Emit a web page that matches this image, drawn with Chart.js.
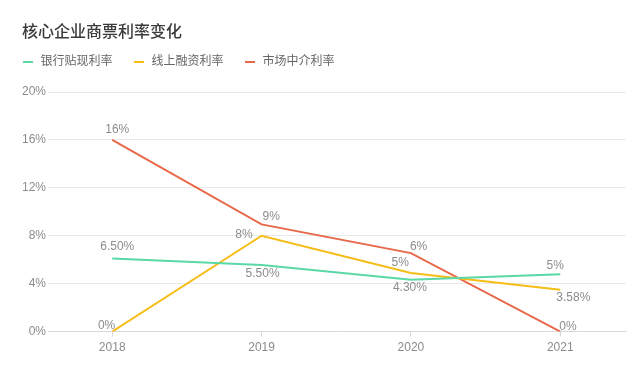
<!DOCTYPE html>
<html>
<head>
<meta charset="utf-8">
<script src="https://cdn.jsdelivr.net/npm/chart.js@4"></script>
<style>
  html, body { margin: 0; padding: 0; background: #fff; }
  #wrap { width: 634px; height: 376px; }
</style>
</head>
<body>
<div id="wrap"><canvas id="rateChart"></canvas></div>
<script>
// Data
const years = ['2018', '2019', '2020', '2021'];
const bankRates = [6.1, 5.55, 4.33, 4.78];
const onlineRates = [0, 8, 4.9, 3.5];
const agentRates = [16, 8.95, 6.55, 0];
// printed labels (as shown in the picture)
const bankLabels = ['6.50%', '5.50%', '4.30%', '5%'];
const onlineLabels = ['0%', '8%', '5%', '3.58%'];
const agentLabels = ['16%', '9%', '6%', '0%'];
const yTicks = [0, 4, 8, 12, 16, 20];
const chartTitle = '核心企业商票利率变化';

const FONT = '"Helvetica Neue", Arial, "Liberation Sans", "Noto Sans CJK SC", sans-serif';
Chart.defaults.font.family = FONT;

function toPoints(arr) {
    return arr.map(function(v, i) { return { x: i, y: v }; });
}

// title + legend drawn at the top-left
const header = {
    id: 'header',
    afterDraw: function(chart) {
        const ctx = chart.ctx;
        ctx.save();
        ctx.textBaseline = 'middle';
        ctx.textAlign = 'left';
        ctx.fillStyle = '#3a3a3a';
        ctx.font = '500 16px ' + FONT;
        ctx.fillText(chartTitle, 22, 33);

        ctx.font = '12px ' + FONT;
        let x = 23;
        chart.data.datasets.forEach(function(ds) {
            ctx.strokeStyle = ds.borderColor;
            ctx.lineWidth = 2;
            ctx.beginPath();
            ctx.moveTo(x, 62);
            ctx.lineTo(x + 10, 62);
            ctx.stroke();
            ctx.fillStyle = '#666';
            ctx.fillText(ds.label, x + 17.5, 62);
            x += 17.5 + ctx.measureText(ds.label).width + 21.5;
        });
        ctx.restore();
    }
};

// simple point label drawer
const pointLabels = {
    id: 'pointLabels',
    afterDatasetsDraw: function(chart) {
        const ctx = chart.ctx;
        ctx.save();
        ctx.font = '12px ' + FONT;
        ctx.fillStyle = '#8c8c8c';
        ctx.textBaseline = 'middle';
        chart.data.datasets.forEach(function(ds, i) {
            const meta = chart.getDatasetMeta(i);
            meta.data.forEach(function(pt, j) {
                const off = ds.labelOffset[j];
                ctx.textAlign = off[2] || 'center';
                ctx.fillText(ds.labels[j], pt.x + off[0], pt.y + off[1]);
            });
        });
        ctx.restore();
    }
};

new Chart(document.getElementById('rateChart'), {
    type: 'line',
    data: {
        datasets: [
            {
                label: '银行贴现利率',
                data: toPoints(bankRates),
                labels: bankLabels,
                labelOffset: [[5, -12], [1, 9], [-1, 8], [-5, -9]],
                borderColor: '#5AD8A6',
                backgroundColor: '#5AD8A6'
            },
            {
                label: '线上融资利率',
                data: toPoints(onlineRates),
                labels: onlineLabels,
                labelOffset: [[3, -6, 'right'], [-9, -1, 'right'], [-2, -10, 'right'], [-4, 8, 'left']],
                borderColor: '#F6BD16',
                backgroundColor: '#F6BD16'
            },
            {
                label: '市场中介利率',
                data: toPoints(agentRates),
                labels: agentLabels,
                labelOffset: [[5, -10], [1, -8, 'left'], [-1, -6, 'left'], [-1, -5, 'left']],
                borderColor: '#E8684A',
                backgroundColor: '#E8684A'
            }
        ]
    },
    options: {
        responsive: true,
        maintainAspectRatio: false,
        animation: false,
        elements: {
            line: { borderWidth: 2, tension: 0 },
            point: { radius: 0, hoverRadius: 0 }
        },
        layout: {
            padding: { left: 22, right: 8, top: 92, bottom: 17 }
        },
        scales: {
            x: {
                type: 'linear',
                min: -0.43,
                max: 3.44,
                afterBuildTicks: function(axis) {
                    axis.ticks = years.map(function(y, i) { return { value: i }; });
                },
                grid: {
                    drawOnChartArea: false,
                    tickLength: 5,
                    color: '#d9d9d9'
                },
                border: { color: '#d9d9d9' },
                ticks: {
                    color: '#8c8c8c',
                    font: { size: 12 },
                    padding: 4,
                    callback: function(v) { return years[v]; }
                }
            },
            y: {
                min: 0,
                max: 20,
                afterBuildTicks: function(axis) {
                    axis.ticks = yTicks.map(function(v) { return { value: v }; });
                },
                afterFit: function(axis) { axis.width = 26; },
                grid: {
                    color: '#e9e9e9',
                    drawTicks: false
                },
                border: { display: false },
                ticks: {
                    color: '#8c8c8c',
                    font: { size: 12 },
                    padding: 2,
                    callback: function(v) { return v + '%'; }
                }
            }
        },
        plugins: {
            legend: { display: false },
            title: { display: false },
            tooltip: { enabled: false }
        }
    },
    plugins: [pointLabels, header]
});
</script>
</body>
</html>
